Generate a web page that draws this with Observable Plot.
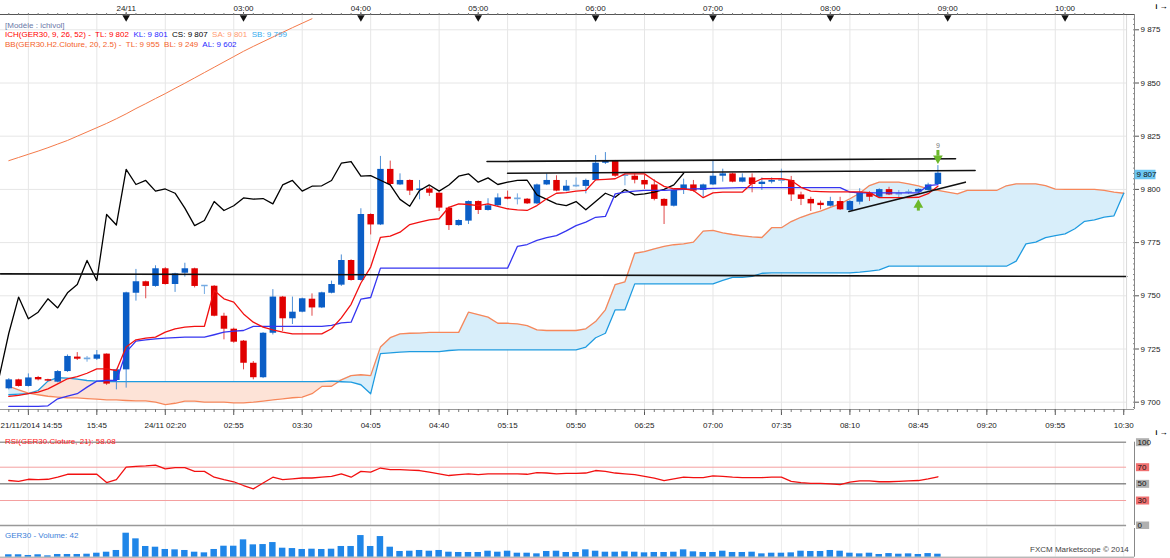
<!DOCTYPE html>
<html><head><meta charset="utf-8">
<script src="https://cdn.jsdelivr.net/npm/d3@7"></script>
<script src="https://cdn.jsdelivr.net/npm/@observablehq/plot@0.6"></script>
<style>
body{margin:0;background:#fff;font-family:"Liberation Sans",Arial,sans-serif;}
#wrap{position:relative;width:1170px;height:558px;overflow:hidden;background:#fff;}
.abs{position:absolute;}
.lg{position:absolute;left:5px;font-size:8px;white-space:pre;line-height:10px;}
</style></head><body><div id="wrap">
<div id="main" class="abs" style="left:0;top:0"></div>
<div id="rsi" class="abs" style="left:0;top:437px"></div>
<div id="vol" class="abs" style="left:0;top:527px"></div>
<div class="lg" style="top:21px;color:#6a78a8">[Modèle : ichivol]</div>
<div class="lg" style="top:30px"><span style="color:#ff0000">ICH(GER30, 9, 26, 52) -  TL: 9 802</span>  <span style="color:#2a2aff">KL: 9 801</span>  <span style="color:#000">CS: 9 807</span>  <span style="color:#ff9a70">SA: 9 801</span>  <span style="color:#33aaee">SB: 9 799</span></div>
<div class="lg" style="top:40px"><span style="color:#f4622a">BB(GER30.H2.Cloture, 20, 2.5) -  TL: 9 955  BL: 9 249</span>  <span style="color:#2a2aff">AL: 9 602</span></div>
<div class="lg" style="top:437px;color:#ff2020">RSI(GER30.Cloture, 21): 58.08</div>
<div class="lg" style="top:531px;color:#3d7fd9">GER30 - Volume: 42</div>
<div class="lg" style="top:545px;left:1030px;color:#444">FXCM Marketscope © 2014</div>
</div>
<script>
const openP = [9706.3,9710.5,9707.4,9711.6,9710.6,9709.4,9714.4,9721.2,9720.2,9720.2,
9722.6,9710.2,9715.2,9751.2,9756.6,9754.4,9762.7,9755.3,9760.6,9762.7,
9754.5,9754.5,9740.4,9734.3,9728.7,9718.3,9711.5,9732.4,9749.4,9739.2,
9742.3,9748.4,9744.3,9751.2,9755.0,9766.6,9757.2,9788.2,9783.3,9809.4,
9802.1,9804.2,9799.5,9800.2,9798.2,9791.2,9783.0,9785.1,9794.3,9790.1,
9792.3,9796.3,9795.4,9795.4,9793.2,9802.1,9804.2,9799.2,9801.4,9801.4,
9804.2,9812.3,9813.1,9806.3,9806.2,9804.2,9802.1,9795.3,9792.1,9799.5,
9802.1,9799.5,9802.1,9806.2,9807.3,9803.4,9805.4,9802.3,9803.4,9804.0,
9804.2,9797.4,9795.3,9793.5,9792.1,9794.3,9790.1,9794.0,9798.2,9796.3,
9799.9,9797.6,9798.5,9798.7,9799.5,9802.3];
const highP = [9711.1,9710.8,9713.3,9712.1,9710.8,9714.9,9722.2,9723.3,9721.5,9724.3,
9722.7,9715.5,9751.7,9762.4,9756.9,9764.1,9763.2,9760.6,9765.3,9763.0,
9754.8,9754.8,9741.8,9734.8,9729.0,9719.1,9732.7,9752.9,9749.7,9749.4,
9748.9,9750.9,9751.7,9756.9,9769.2,9766.9,9790.9,9788.5,9815.5,9813.3,
9807.3,9804.5,9804.2,9801.4,9798.5,9791.7,9785.7,9794.6,9794.6,9795.6,
9797.9,9799.2,9797.9,9795.7,9802.5,9807.3,9806.4,9804.2,9805.4,9804.8,
9815.9,9817.3,9813.6,9807.3,9807.3,9806.7,9804.5,9795.6,9799.8,9804.8,
9804.2,9802.5,9813.6,9809.5,9807.6,9807.3,9807.3,9805.4,9805.4,9809.5,
9806.1,9798.7,9796.3,9794.5,9796.3,9796.3,9794.8,9800.3,9798.9,9800.3,
9801.0,9799.5,9799.8,9800.3,9802.9,9811.2];
const lowP = [9705.8,9707.1,9707.1,9710.0,9709.7,9709.1,9714.0,9719.6,9718.8,9719.6,
9707.9,9705.8,9706.6,9747.5,9748.6,9754.0,9755.0,9751.6,9758.8,9753.7,
9750.6,9740.1,9729.3,9727.7,9715.2,9710.5,9711.1,9731.6,9733.2,9736.5,
9742.0,9740.4,9744.0,9750.9,9754.4,9756.9,9756.9,9778.6,9783.0,9801.8,
9801.8,9797.1,9795.1,9796.7,9789.6,9780.7,9782.7,9783.5,9788.2,9789.8,
9792.0,9795.1,9792.7,9792.9,9792.9,9801.8,9798.9,9798.9,9801.0,9797.9,
9803.9,9811.7,9805.7,9801.7,9802.6,9800.0,9794.6,9783.5,9791.7,9797.6,
9798.7,9796.3,9801.8,9803.4,9803.1,9803.1,9798.4,9799.5,9802.6,9802.6,
9794.3,9792.4,9789.6,9790.4,9791.7,9790.1,9789.8,9792.7,9794.3,9796.0,
9797.1,9796.0,9797.6,9798.2,9799.2,9802.1];
const closeP = [9710.5,9707.4,9711.4,9710.5,9709.9,9714.4,9721.5,9720.2,9720.5,9722.2,
9708.5,9715.2,9751.4,9756.6,9754.4,9762.7,9755.3,9760.3,9762.7,9754.4,
9754.7,9740.4,9734.3,9728.2,9718.3,9711.5,9732.4,9749.4,9739.2,9742.3,
9748.6,9744.3,9751.4,9755.3,9766.6,9757.2,9788.2,9783.3,9809.4,9802.3,
9804.2,9799.2,9800.2,9798.2,9791.2,9783.0,9785.4,9794.3,9790.1,9792.3,
9796.0,9795.4,9795.7,9793.2,9802.1,9804.2,9799.2,9801.5,9801.7,9804.2,
9812.3,9813.1,9806.2,9806.5,9804.3,9802.1,9795.3,9792.1,9799.5,9802.1,
9799.2,9802.1,9806.2,9807.3,9803.4,9805.4,9802.3,9803.4,9804.2,9804.3,
9797.4,9795.3,9793.2,9792.4,9794.3,9790.4,9794.3,9798.2,9796.3,9799.9,
9797.4,9797.9,9798.7,9800.0,9802.1,9807.6];
const tenkan = [9702.7,9703.2,9704.0,9704.7,9706.3,9708.6,9711.0,9712.0,9713.6,9715.7,
9715.7,9714.9,9725.9,9729.3,9730.1,9730.6,9732.9,9734.5,9735.3,9735.6,
9735.7,9752.5,9748.6,9747.0,9741.5,9737.6,9735.3,9734.0,9732.9,9732.1,
9732.1,9732.1,9732.1,9734.5,9739.6,9746.0,9756.0,9763.5,9777.5,9778.0,
9779.9,9783.5,9784.6,9785.7,9786.2,9791.6,9793.2,9792.9,9792.4,9793.2,
9792.0,9790.9,9790.4,9790.1,9792.4,9795.6,9798.2,9798.5,9799.2,9799.5,
9804.5,9804.7,9805.0,9807.3,9807.3,9807.3,9804.2,9801.4,9800.3,9800.3,
9799.5,9796.1,9798.4,9798.7,9798.7,9798.7,9802.9,9805.0,9805.0,9805.0,
9804.2,9801.0,9799.2,9799.0,9798.8,9798.8,9798.8,9798.8,9798.5,9796.1,
9796.1,9796.1,9796.1,9796.3,9798.0,9801.5];
const kijun = [9698.0,9698.0,9698.0,9698.0,9698.3,9701.6,9702.8,9704.0,9707.1,9709.9,
9710.2,9710.2,9723.5,9728.7,9729.3,9729.8,9730.1,9730.3,9730.6,9730.6,
9730.6,9731.7,9732.9,9733.4,9733.7,9735.6,9735.6,9735.6,9735.6,9735.6,
9735.6,9735.6,9735.6,9736.1,9737.3,9737.6,9748.4,9749.2,9763.0,9763.0,
9763.0,9763.0,9763.0,9763.0,9763.0,9763.0,9763.0,9763.0,9763.0,9763.0,
9763.0,9763.0,9773.2,9774.1,9776.0,9777.3,9778.3,9780.5,9783.0,9784.6,
9786.9,9787.3,9797.9,9798.7,9799.2,9799.5,9799.5,9799.5,9799.8,9800.0,
9800.2,9800.3,9800.5,9800.6,9800.7,9800.8,9800.8,9800.8,9800.8,9800.8,
9800.8,9800.8,9800.8,9800.8,9800.8,9800.8,9798.7,9798.4,9798.4,9798.4,
9798.4,9798.4,9798.4,9798.4,9801.8,9802.2];
const senkouA = [9707.5,9705.8,9704.3,9703.5,9702.8,9702.4,9702.1,9702.0,9701.7,9701.4,
9701.1,9701.1,9700.8,9700.6,9700.6,9700.0,9698.9,9699.5,9700.5,9700.5,
9700.0,9700.0,9700.0,9699.7,9699.7,9700.0,9700.5,9701.1,9701.6,9702.1,
9702.4,9704.0,9707.4,9707.5,9710.5,9712.5,9712.9,9712.5,9725.9,9730.3,
9732.1,9732.4,9732.5,9732.8,9732.8,9732.8,9732.8,9742.3,9741.2,9740.0,
9737.1,9737.1,9736.8,9736.0,9734.0,9733.7,9733.7,9733.7,9733.7,9734.5,
9737.9,9743.4,9755.3,9756.6,9770.0,9770.8,9772.1,9773.2,9774.0,9774.4,
9775.2,9780.4,9780.7,9779.6,9778.8,9778.2,9777.7,9777.4,9782.0,9782.0,
9784.9,9786.9,9788.5,9789.8,9791.6,9793.2,9795.6,9798.2,9801.8,9803.4,
9803.4,9803.4,9802.6,9801.7,9800.3,9799.5,9798.7,9797.9,9799.5,9799.5,
9799.5,9799.5,9801.7,9802.6,9802.6,9802.6,9801.8,9800.1,9800.0,9800.0,
9800.0,9800.0,9799.5,9798.7,9798.2];
const senkouB = [9703.5,9703.8,9704.0,9705.5,9709.9,9711.5,9711.3,9710.8,9710.2,9709.9,
9709.7,9709.7,9709.7,9709.7,9709.7,9709.7,9709.7,9709.7,9709.7,9709.7,
9709.7,9709.7,9709.7,9709.7,9709.7,9709.7,9709.7,9709.7,9709.7,9709.7,
9709.7,9709.7,9709.7,9709.9,9709.6,9709.4,9708.2,9704.0,9722.8,9723.2,
9723.5,9723.8,9723.8,9723.8,9723.8,9724.3,9724.6,9724.6,9724.6,9724.6,
9724.6,9724.6,9724.6,9724.6,9724.6,9724.6,9724.6,9724.6,9724.6,9725.9,
9730.3,9732.4,9743.4,9743.4,9755.6,9755.6,9755.6,9755.6,9755.6,9755.6,
9755.6,9755.6,9755.6,9757.2,9758.7,9758.7,9759.1,9760.6,9760.8,9760.8,
9760.8,9760.8,9760.8,9760.8,9760.8,9760.8,9760.8,9761.1,9761.6,9762.2,
9763.9,9763.9,9763.9,9763.9,9763.9,9763.9,9763.9,9763.9,9763.9,9763.9,
9763.9,9763.9,9763.9,9766.3,9774.4,9775.2,9777.3,9778.3,9779.1,9781.5,
9785.0,9785.7,9787.0,9787.6,9798.2];
const bbUpper = [9813.5,9815.0,9816.5,9818.0,9819.6,9821.3,9823.0,9825.0,9827.0,9829.0,
9831.0,9833.2,9835.5,9838.0,9840.3,9842.7,9845.0,9847.5,9849.9,9852.4,
9854.9,9857.4,9859.9,9862.4,9864.9,9867.2,9869.4,9871.6,9873.8,9876.0,
9878.1,9880.2];
const rsi = [54,53,55.5,55,55.5,58,61.5,61.5,61.5,61.5,
51.5,55,70,71,71.5,72.5,68,69.5,69.5,65,
65,58,55,52.5,48,44,51,58,55,56,
57,57,58,59,62,58,65,64,69,67,
67,66.5,66,64,62,60,61,62,61,62,
62,62,62,61.5,63.5,63,62,62.5,62.5,63,
66,65,63,62,61,59,57,54,56,58,
57.5,57.5,59.5,59,58,57.5,57.5,57.5,58,58,
53,51.5,50.5,50.5,50,49,52,53.5,53.5,52.5,
52.5,53,53.5,54,56,58.5];
const volume = [34,34,24,34,19,38,38,38,42,56,
70,94,336,257,150,140,108,103,94,70,
61,108,154,154,243,173,177,205,126,121,
108,112,108,112,150,150,303,150,289,140,
80,84,94,84,94,70,66,66,66,84,
70,84,56,56,47,80,84,66,66,103,
84,70,70,75,70,61,66,66,70,103,
75,66,66,84,66,66,70,47,56,56,
61,84,80,80,94,84,56,47,56,38,
51,42,47,38,51,42];
const priceTicks = [9700,9725,9750,9775,9800,9825,9850,9875];
const topTickIdx = [12,24,36,48,60,72,84,96,108];
const topTickLabels = ["24/11","03:00","04:00","05:00","06:00","07:00","08:00","09:00","10:00"];
const bottomTickIdx = [2,9,16,23,30,37,44,51,58,65,72,79,86,93,100,107,114];
const bottomTickLabels = ["21/11/2014 14:55","15:45","24/11 02:20","02:55","03:30","04:05","04:40","05:15","05:50","06:25","07:00","07:35","08:10","08:45","09:20","09:55","10:30"];
const levelLine = [{i:-0.85,p:9760.3},{i:114.3,p:9759.1}];
const trendTop = [{i:48.9,p:9813.1},{i:96.8,p:9814.4}];
const trendMid = [{i:51.0,p:9807.6},{i:98.8,p:9808.9}];
const trendRise = [{i:85.9,p:9789.6},{i:97.8,p:9803.4}];
const rsiLevels = [100,70,50,30,0];
const lastPrice = 9807;

const X0 = -0.8487, XF = 114.29, X1 = 115.10;
const Y0 = 9696.57, Y1 = 9882.19;
const fmt = d3.formatLocale({decimal:".",thousands:" ",grouping:[3],currency:["",""]}).format(",.0f");
const FONT = '"Liberation Sans", Arial, sans-serif';
const UP = "#0b5ec6", DOWN = "#e00000", FLAT = "#74aae2";

const candles = closeP.map((c,i)=>({i,o:openP[i],h:highP[i],l:lowP[i],c}));
const col = d => Math.abs(d.c-d.o) < 0.5 ? FLAT : (d.c > d.o ? UP : DOWN);
const wcol = d => Math.abs(d.c-d.o) < 0.5 ? FLAT : (d.c > d.o ? "#4d8fd6" : "#e04848");
const cloud = senkouA.map((a,i)=>({i,sa:a,sb:senkouB[i]}));
const series = arr => arr.map((p,i)=>({i,p}));
const chikou = closeP.slice(25).map((p,k)=>({i:k-1,p}));
const topMap = new Map(topTickIdx.map((d,k)=>[d,topTickLabels[k]]));
const botMap = new Map(bottomTickIdx.map((d,k)=>[d,bottomTickLabels[k]]));

const main = Plot.plot({
  width:1170, height:437, marginLeft:0, marginRight:36, marginTop:14, marginBottom:28,
  x:{domain:[X0,X1], axis:null},
  y:{domain:[Y0,Y1], axis:null},
  color:{type:"identity"},
  style:{fontSize:"8px", fontFamily:FONT, color:"#222", background:"transparent"},
  marks:[
    Plot.ruleY(priceTicks,{x1:X0,x2:XF,stroke:"#e6e6e6"}),
    Plot.ruleX(bottomTickIdx,{stroke:"#e6e6e6"}),
    Plot.areaY(cloud,{x:"i",y1:"sb",y2:d=>Math.max(d.sa,d.sb),fill:"#d8eefa"}),
    Plot.areaY(cloud,{x:"i",y1:"sa",y2:d=>Math.max(d.sa,d.sb),fill:"#fde3d7"}),
    Plot.line(cloud,{x:"i",y:"sa",stroke:"#f7875a",strokeWidth:1.3}),
    Plot.line(cloud,{x:"i",y:"sb",stroke:"#1e9be0",strokeWidth:1.3}),
    Plot.line(series(bbUpper),{x:"i",y:"p",stroke:"#f47a4a",strokeWidth:1,clip:true}),
    Plot.ruleX(candles,{x:"i",y1:"l",y2:"h",stroke:wcol,strokeWidth:1}),
    Plot.ruleX(candles,{x:"i",y1:d=>Math.min(d.o,d.c)-(Math.abs(d.c-d.o)<0.5?0.25:0),y2:d=>Math.max(d.o,d.c)+(Math.abs(d.c-d.o)<0.5?0.25:0),stroke:col,strokeWidth:6.5}),
    Plot.line(chikou,{x:"i",y:"p",stroke:"#000",strokeWidth:1.3,clip:true}),
    Plot.line(series(kijun),{x:"i",y:"p",stroke:"#3535f0",strokeWidth:1.3}),
    Plot.line(series(tenkan),{x:"i",y:"p",stroke:"#f21010",strokeWidth:1.3}),
    Plot.line(levelLine,{x:"i",y:"p",stroke:"#111",strokeWidth:1.6}),
    Plot.line(trendTop,{x:"i",y:"p",stroke:"#111",strokeWidth:1.6}),
    Plot.line(trendMid,{x:"i",y:"p",stroke:"#111",strokeWidth:1.6}),
    Plot.line(trendRise,{x:"i",y:"p",stroke:"#111",strokeWidth:1.6}),
    Plot.ruleX([{i:95,a:9815.6,b:9818.3}],{x:"i",y1:"a",y2:"b",stroke:"#6cb82a",strokeWidth:3}),
    Plot.dot([{i:95,p:9814.6}],{x:"i",y:"p",symbol:"triangle",rotate:180,r:3.6,fill:"#6cb82a"}),
    Plot.text([{i:95,p:9820.6}],{x:"i",y:"p",text:()=>"9",fontSize:7,fill:"#777"}),
    Plot.ruleX([{i:93,a:9789.8,b:9792.0}],{x:"i",y1:"a",y2:"b",stroke:"#6cb82a",strokeWidth:3}),
    Plot.dot([{i:93,p:9792.7}],{x:"i",y:"p",symbol:"triangle",r:3.6,fill:"#6cb82a"}),
    Plot.ruleX([XF],{stroke:"#dadada"}),
    Plot.ruleX([X1],{stroke:"#888"}),
    Plot.ruleY([Y1],{x1:X0,x2:X1,stroke:"#555"}),
    Plot.ruleY([Y0],{x1:X0,x2:X1,stroke:"#999"}),
    Plot.axisY({anchor:"right",ticks:priceTicks,tickSize:4,tickPadding:2,tickFormat:fmt,stroke:"#555"}),
    Plot.axisY({anchor:"right",ticks:d3.range(9697.5,9882,2.5),tickSize:2,dx:-2,tickFormat:()=>"",stroke:"#888"}),
    Plot.axisX({anchor:"top",ticks:topTickIdx,tickSize:3,tickPadding:1,tickFormat:d=>topMap.get(d),stroke:"#555"}),
    Plot.axisX({anchor:"top",ticks:d3.range(0,115),tickSize:2,tickFormat:()=>"",stroke:"#777"}),
    Plot.dotX(topTickIdx,{frameAnchor:"top",symbol:"triangle",rotate:180,r:2.8,fill:"#111",dy:3}),
    Plot.axisX({anchor:"bottom",ticks:bottomTickIdx,tickSize:6,tickPadding:7,tickFormat:d=>d===bottomTickIdx[0]?"":botMap.get(d),stroke:"#555"}),
    Plot.text([bottomTickLabels[0]],{x:X0,frameAnchor:"bottom",textAnchor:"start",lineAnchor:"top",dy:13,text:d=>d,fill:"#222"}),
    Plot.axisX({anchor:"bottom",ticks:d3.range(0,115),tickSize:3,tickFormat:()=>"",stroke:"#777"}),
    Plot.ruleY([lastPrice],{x1:X1+0.05,x2:X1+2.2,stroke:"#6cc6f2",strokeWidth:9.5}),
    Plot.text([lastPrice],{x:X1,y:d=>d,text:d=>fmt(d),textAnchor:"start",dx:2,fill:"#111"})
  ]
});
document.getElementById("main").appendChild(main);

const rsiPlot = Plot.plot({
  width:1170, height:92, marginLeft:0, marginRight:36, marginTop:4.7, marginBottom:4,
  x:{domain:[X0,X1], axis:null},
  y:{domain:[0,100], axis:null},
  color:{type:"identity"},
  style:{fontSize:"8px", fontFamily:FONT, color:"#222", background:"transparent"},
  marks:[
    Plot.ruleX(bottomTickIdx,{stroke:"#ececec"}),
    Plot.ruleY([100,0],{x1:X0,x2:XF,stroke:"#999",strokeWidth:1.5}),
    Plot.ruleY([70,30],{x1:X0,x2:XF,stroke:"#f4a0a0"}),
    Plot.ruleY([50],{x1:X0,x2:XF,stroke:"#555"}),
    Plot.line(series(rsi),{x:"i",y:"p",stroke:"#f21010",strokeWidth:1.3}),
    Plot.ruleX([X1],{stroke:"#888"}),
    Plot.ruleY(rsiLevels,{x1:X1+0.2,x2:X1+1.55,stroke:d=>(d===70||d===30)?"#f07070":"#b0b0b0",strokeWidth:8}),
    Plot.text(rsiLevels,{x:X1,y:d=>d,text:d=>String(d),textAnchor:"start",dx:3,fill:"#111"})
  ]
});
document.getElementById("rsi").appendChild(rsiPlot);

const volPlot = Plot.plot({
  width:1170, height:31, marginLeft:0, marginRight:36, marginTop:1, marginBottom:1.3,
  x:{domain:[X0,X1], axis:null},
  y:{domain:[0,401.8], axis:null},
  style:{fontSize:"8px", fontFamily:FONT, background:"transparent"},
  marks:[
    Plot.ruleX(bottomTickIdx,{stroke:"#ececec"}),
    Plot.rectY(series(volume),{x1:d=>d.i-0.33,x2:d=>d.i+0.33,y:"p",fill:"#1f86e8"}),
    Plot.ruleX([X1],{stroke:"#888"}),
    Plot.ruleY([0],{x1:X0,x2:X1,stroke:"#999"})
  ]
});
document.getElementById("vol").appendChild(volPlot);
</script>
</body></html>
